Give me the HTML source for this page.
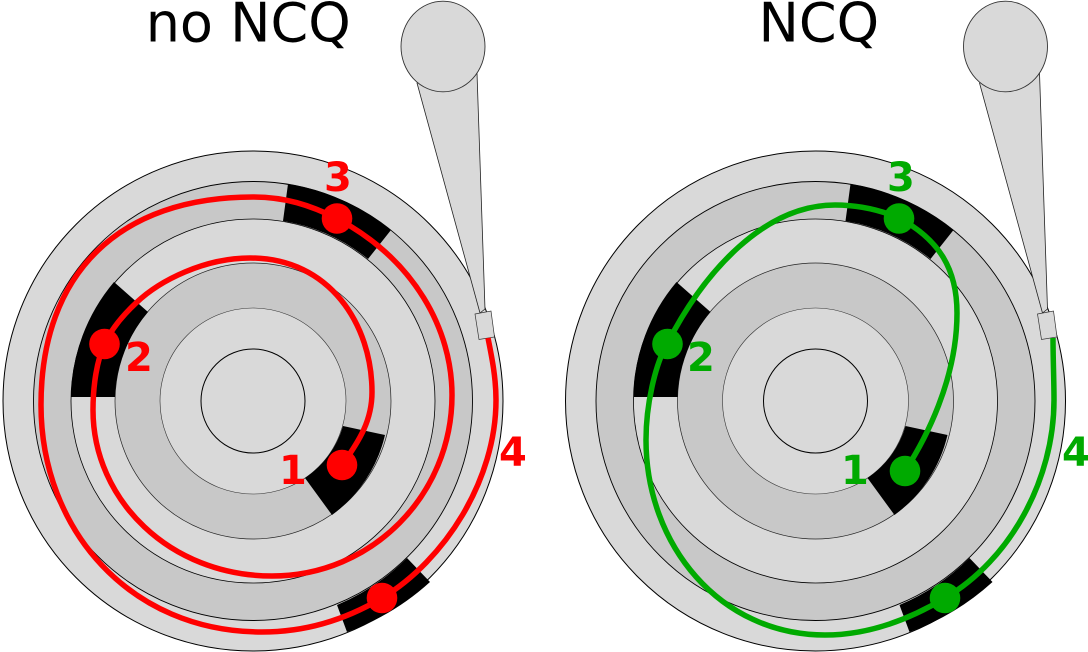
<!DOCTYPE html>
<html>
<head>
<meta charset="utf-8">
<style>
html,body{margin:0;padding:0;background:#fff;}
svg{display:block;}
.t{font-family:"DejaVu Sans",sans-serif;font-size:54px;fill:#000;}
.n{font-family:"DejaVu Sans",sans-serif;font-size:40px;font-weight:bold;}
</style>
</head>
<body>
<svg width="1088" height="652" viewBox="0 0 1088 652" xmlns="http://www.w3.org/2000/svg">
<defs>
<g id="disk">
  <circle cx="253" cy="401" r="250" fill="#d9d9d9" stroke="#000" stroke-width="1"/>
  <circle cx="253" cy="401" r="219.5" fill="#c8c8c8" stroke="#000" stroke-width="0.9"/>
  <circle cx="253" cy="401" r="182" fill="#d9d9d9" stroke="#000" stroke-width="0.8"/>
  <circle cx="253" cy="401" r="138" fill="#c8c8c8" stroke="#222" stroke-width="0.7"/>
  <circle cx="253" cy="401" r="93" fill="#d9d9d9" stroke="#333" stroke-width="0.6"/>
  <circle cx="253" cy="401" r="52" fill="#d9d9d9" stroke="#000" stroke-width="1"/>
  <path d="M343,426 L385,435 A138,138 0 0 1 332,515 L305,478 A93,93 0 0 0 343,426 Z" fill="#000"/>
  <path d="M114,282 L148,312 A138,138 0 0 0 115,397 L71,397 A182,182 0 0 1 114,282 Z" fill="#000"/>
  <path d="M288,184 A220,220 0 0 1 391,230 L368,259 A182,182 0 0 0 283,221 Z" fill="#000"/>
  <path d="M407,558 L430,582 A250,250 0 0 1 347,632 L337,605 A220,220 0 0 0 407,558 Z" fill="#000"/>
</g>
<g id="arm">
  <path d="M417,83 L480,313 L485,309 L477,73 Z" fill="#d9d9d9" stroke="#222" stroke-width="0.8" stroke-linejoin="round"/>
  <ellipse cx="443" cy="46.5" rx="42" ry="45.3" fill="#d9d9d9" stroke="#333" stroke-width="0.9"/>
  <path d="M475,314 L491,311 L494.500,337 L479,339.500 Z" fill="#d9d9d9" stroke="#333" stroke-width="0.7"/>
</g>
</defs>

<use href="#disk"/>
<use href="#arm"/>
<use href="#disk" x="562.5"/>
<use href="#arm" x="562.5"/>

<path fill="none" stroke="#ff0000" stroke-width="5.5" d="M342,465 C360,440 372,420 372,392 C372,325 330,258 250,258 C205,258 160,280 136,303 C120,318 110,332 104.500,344 C97,360 93,385 93,410 C93,500 170,576 272,576 C372,576 452,495 452,395 C452,330 415,260 337,218.500 C310,205 285,197 253,197 C120,197 41,272 41,405 C41,530 130,632 262,632 C305,632 345,620 382,598 C445,560 496,480 496,400 C496,378 492,358 488,338"/>
<circle cx="342" cy="465" r="15.300" fill="#ff0000"/>
<circle cx="104.500" cy="344" r="15.300" fill="#ff0000"/>
<circle cx="337" cy="218.500" r="15.300" fill="#ff0000"/>
<circle cx="382" cy="598" r="15.300" fill="#ff0000"/>

<path fill="none" stroke="#00aa00" stroke-width="5.5" d="M905,471 C925,440 957,380 957,313 C957,270 940,240 899,218 C880,210 860,205 835,205 C765,205 705,270 667,344 C655,365 646,405 646,440 C646,545 720,635 825,635 C865,635 905,622 945,598 C1010,560 1054,480 1054,400 C1054,380 1053,358 1053,338"/>
<circle cx="905" cy="471" r="15.300" fill="#00aa00"/>
<circle cx="667.500" cy="344" r="15.300" fill="#00aa00"/>
<circle cx="899" cy="218.500" r="15.300" fill="#00aa00"/>
<circle cx="945" cy="598" r="15.300" fill="#00aa00"/>

<text class="t" x="145.700" y="41.500">no NCQ</text>
<text class="t" x="758.500" y="41.500">NCQ</text>

<g fill="#ff0000">
  <text class="n" x="279" y="484">1</text>
  <text class="n" x="125" y="371">2</text>
  <text class="n" x="324" y="191">3</text>
  <text class="n" x="499" y="466">4</text>
</g>
<g fill="#00aa00">
  <text class="n" x="841" y="484">1</text>
  <text class="n" x="687" y="371">2</text>
  <text class="n" x="887" y="191">3</text>
  <text class="n" x="1062" y="466">4</text>
</g>
</svg>
</body>
</html>
